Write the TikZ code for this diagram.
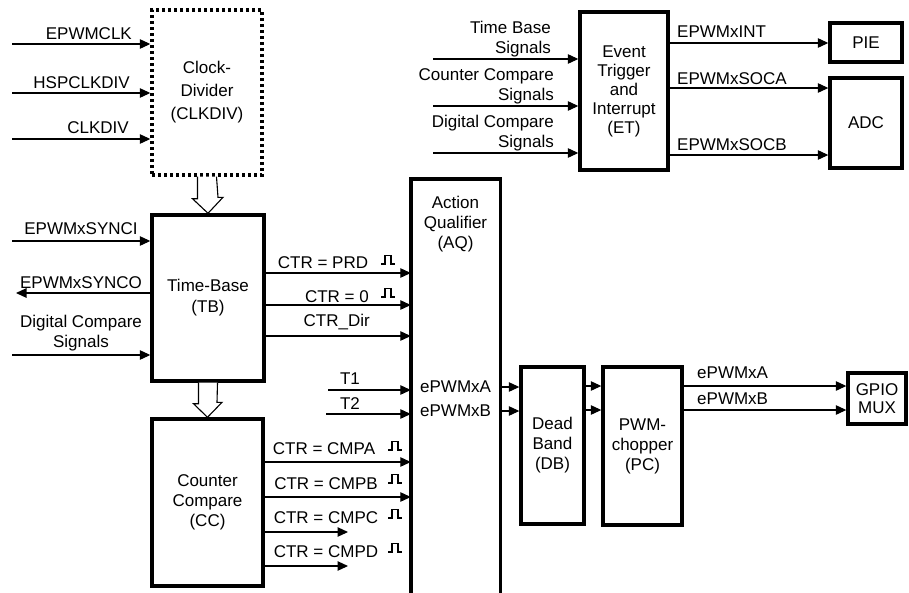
\documentclass[tikz,border=0pt]{standalone}
\usepackage{fontspec}
\setmainfont{Liberation Sans}
\usetikzlibrary{arrows.meta}
\begin{document}
\begin{tikzpicture}[x=1pt,y=-1pt,
  every node/.style={font=\fontsize{17}{21}\selectfont, inner sep=0pt},
  blk/.style={draw, line width=3.4pt, align=center},
  sig/.style={line width=1.1pt, -{Triangle[length=10.5pt,width=9.5pt]}},
  lbl/.style={inner sep=0pt},
  twoline/.style={font=\fontsize{17}{20}\selectfont},
  hollow/.style={line width=1.1pt, fill=white},
  pulse/.pic={\draw[line width=1.1pt] (0,0) -- (4,0) -- (4,-8.5) -- (10,-8.5) -- (10,0) -- (14,0);}
]
\useasboundingbox (0,0) rectangle (909,592);

% ---- blocks ----
\node[blk, dash pattern=on 3pt off 3pt, minimum width=110pt, minimum height=165pt, font=\fontsize{17}{23}\selectfont] (clk) at (207,92.5) {Clock-\\Divider\\(CLKDIV)};
\node[blk, minimum width=112pt, minimum height=166pt] (tb) at (208,298) {Time-Base\\(TB)};
\node[blk, minimum width=111pt, minimum height=167pt, twoline] (cc) at (207.5,502.5) {Counter\\Compare\\(CC)};
\node[minimum width=89pt, minimum height=414pt] (aq) at (455.5,386) {};
\draw[line width=3.4pt] (aq.south west) -- (aq.north west) -- (aq.north east) -- (aq.south east);
\node[align=center, twoline] (aqt) at (455.5,224) {Action\\Qualifier\\(AQ)};
\node[blk, minimum width=63pt, minimum height=157pt, twoline] (db) at (552.5,445.5) {Dead\\Band\\(DB)};
\node[blk, minimum width=79pt, minimum height=158pt, twoline] (pc) at (642.5,446) {PWM-\\chopper\\(PC)};
\node[blk, minimum width=58pt, minimum height=51pt, font=\fontsize{17}{18}\selectfont] (gpio) at (877,398.5) {GPIO\\MUX};
\node[blk, minimum width=88pt, minimum height=158pt, font=\fontsize{17}{19}\selectfont] (et) at (624,91) {Event\\Trigger\\and\\Interrupt\\(ET)};
\node[blk, minimum width=72pt, minimum height=39pt] (pie) at (866,42.5) {PIE};
\node[blk, minimum width=72pt, minimum height=90pt] (adc) at (866,123) {ADC};

% ---- hollow arrows ----
\draw[hollow] ([xshift=-9.5pt]clk.south) -- ++(0,22) -- ++(-5,0) -- (tb.north) -- ++(15,-16) -- ++(-5,0) -- ([xshift=9.5pt]clk.south);
\draw[hollow] ([xshift=-9.5pt]tb.south) -- ++(0,21) -- ++(-5,0) -- (cc.north) -- ++(14.5,-15) -- ++(-5,0) -- ([xshift=9.5pt]tb.south);

% ---- clock divider inputs ----
\coordinate (c1) at (12,44);
\coordinate (c2) at (12,93);
\coordinate (c3) at (12,139);
\draw[sig] (c1) -- (c1 -| clk.west);
\draw[sig] (c2) -- (c2 -| clk.west);
\draw[sig] (c3) -- (c3 -| clk.west);
\node[lbl, anchor=east] at (132,34) {EPWMCLK};
\node[lbl, anchor=east] at (130,83) {HSPCLKDIV};
\node[lbl, anchor=east] at (129,128) {CLKDIV};

% ---- time base in/out ----
\coordinate (t1) at (12,241);
\coordinate (t2) at (16,293);
\coordinate (t3) at (12,355);
\draw[sig] (t1) -- (t1 -| tb.west);
\draw[sig] (t2 -| tb.west) -- (t2);
\draw[sig] (t3) -- (t3 -| tb.west);
\node[lbl] at (81,228.5) {EPWMxSYNCI};
\node[lbl] at (81,282.5) {EPWMxSYNCO};
\node[lbl, align=center, twoline] at (81,333.5) {Digital Compare\\Signals};

% ---- TB -> AQ ----
\draw[sig] (tb.east |- 0,273) -- (aq.west |- 0,273);
\draw[sig] (tb.east |- 0,305) -- (aq.west |- 0,305);
\draw[sig] (tb.east |- 0,336) -- (aq.west |- 0,336);
\node[lbl] at (323,263) {CTR = PRD};
\node[lbl, anchor=east] at (369,297) {CTR = 0};
\node[lbl, anchor=east] at (370,322) {CTR\_Dir};
\pic at (381,264) {pulse};
\pic at (381,297) {pulse};

% ---- T1 / T2 ----
\coordinate (q1) at (328,390);
\coordinate (q2) at (326,414);
\draw[sig] (q1) -- (q1 -| aq.west);
\draw[sig] (q2) -- (q2 -| aq.west);
\node[lbl] at (350,379) {T1};
\node[lbl] at (350,404) {T2};
\node[lbl, anchor=west] at (420,387) {ePWMxA};
\node[lbl, anchor=west] at (420,411) {ePWMxB};

% ---- CC -> AQ ----
\draw[sig] (cc.east |- 0,462) -- (aq.west |- 0,462);
\draw[sig] (cc.east |- 0,497) -- (aq.west |- 0,497);
\coordinate (e3) at (348,532);
\coordinate (e4) at (348,566);
\draw[sig] (cc.east |- e3) -- (e3);
\draw[sig] (cc.east |- e4) -- (e4);
\node[lbl] at (324,449) {CTR = CMPA};
\node[lbl] at (326,484) {CTR = CMPB};
\node[lbl] at (326,518) {CTR = CMPC};
\node[lbl] at (326,552) {CTR = CMPD};
\pic at (388,450) {pulse};
\pic at (388,483) {pulse};
\pic at (388,518) {pulse};
\pic at (388,552) {pulse};

% ---- AQ -> DB -> PC -> GPIO ----
\draw[sig] (aq.east |- 0,387) -- (db.west |- 0,387);
\draw[sig] (aq.east |- 0,411) -- (db.west |- 0,411);
\draw[sig] (db.east |- 0,386) -- (pc.west |- 0,386);
\draw[sig] (db.east |- 0,410) -- (pc.west |- 0,410);
\draw[sig] (pc.east |- 0,386) -- (gpio.west |- 0,386);
\draw[sig] (pc.east |- 0,410) -- (gpio.west |- 0,410);
\node[lbl, anchor=west] at (697,373) {ePWMxA};
\node[lbl, anchor=west] at (697,399) {ePWMxB};

% ---- ET ----
\coordinate (g1) at (433,59);
\coordinate (g2) at (433,106);
\coordinate (g3) at (433,153);
\draw[sig] (g1) -- (g1 -| et.west);
\draw[sig] (g2) -- (g2 -| et.west);
\draw[sig] (g3) -- (g3 -| et.west);
\node[lbl, align=right, anchor=east, twoline] at (551,39.5) {Time Base\\Signals};
\node[lbl, align=right, anchor=east, twoline] at (554,86.5) {Counter Compare\\Signals};
\node[lbl, align=right, anchor=east, twoline] at (554,133) {Digital Compare\\Signals};
\draw[sig] (et.east |- 0,43) -- (pie.west |- 0,43);
\draw[sig] (et.east |- 0,88) -- (adc.west |- 0,88);
\draw[sig] (et.east |- 0,155) -- (adc.west |- 0,155);
\node[lbl, anchor=west] at (677,32) {EPWMxINT};
\node[lbl, anchor=west] at (677,79) {EPWMxSOCA};
\node[lbl, anchor=west] at (677,145) {EPWMxSOCB};
\end{tikzpicture}
\end{document}
